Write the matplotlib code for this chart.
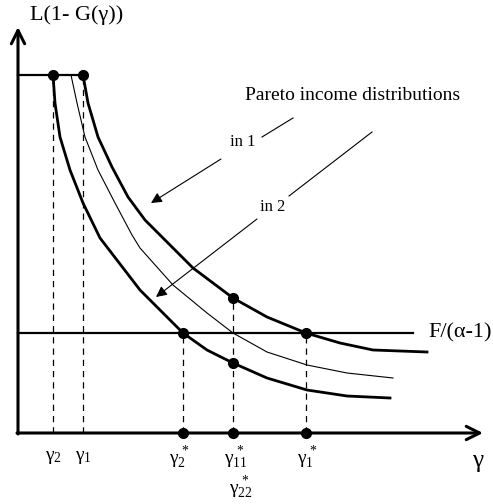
import matplotlib
matplotlib.use('Agg')
from matplotlib import pyplot as plt

plt.rcParams['font.family'] = ['Liberation Serif', 'DejaVu Serif']
plt.rcParams['mathtext.fontset'] = 'custom'
plt.rcParams['mathtext.rm'] = 'Liberation Serif'
plt.rcParams['mathtext.it'] = 'Liberation Serif'

# curves (gamma, L(1-G(gamma)))
upper_x = [65, 70, 80, 94, 110, 127, 145, 155, 175, 215, 249, 288, 322, 355, 409]
upper_y = [358, 330, 296, 266, 236, 213, 195, 185, 165, 135, 116, 100, 90, 83, 81]
middle_x = [53, 59, 67, 80, 97, 114, 122, 155, 189, 215, 249, 289, 329, 375]
middle_y = [358, 330, 296, 263, 230, 198, 185, 148, 120, 100, 81, 68, 60, 55]
lower_x = [35, 37, 42, 52, 65, 82, 122, 142, 165, 189, 215, 249, 289, 329, 372]
lower_y = [358, 330, 296, 263, 230, 195, 143, 123, 100, 83, 70, 55, 43, 37, 35]

cap_level = 358        # flat top of the curves
f_level = 100          # F/(alpha-1)
f_end = 395

gamma_low = [35, 65]           # gamma_2, gamma_1
gamma_star = [165, 215, 288]   # gamma_2*, gamma_11*, gamma_1*
star_tops = [100, 135, 100]
gamma11_low = 70

fig = plt.figure(figsize=(4.93, 5.04), dpi=100)
ax = fig.add_axes([0, 0, 1, 1])
ax.set_xlim(-18, 475)
ax.set_ylim(-71, 433)
ax.axis('off')

# axes with open arrow heads
ax.annotate('', xy=(0, 406), xytext=(0, -1),
            arrowprops=dict(arrowstyle='->', lw=2.2, color='black',
                            mutation_scale=24, shrinkA=0, shrinkB=0))
ax.annotate('', xy=(465, 0), xytext=(-1, 0),
            arrowprops=dict(arrowstyle='->', lw=2.2, color='black',
                            mutation_scale=24, shrinkA=0, shrinkB=0))

# flat top and F line
ax.plot([0, upper_x[0]], [cap_level, cap_level], color='black', lw=1.6)
ax.plot([0, f_end], [f_level, f_level], color='black', lw=1.6)

# curves
ax.plot(upper_x, upper_y, color='black', lw=2.0, solid_joinstyle='round')
ax.plot(middle_x, middle_y, color='black', lw=0.8, solid_joinstyle='round')
ax.plot(lower_x, lower_y, color='black', lw=2.0, solid_joinstyle='round')

# dashed guides
for g in gamma_low:
    ax.plot([g, g], [0, cap_level], color='black', lw=0.9, ls=(0, (5, 4)))
for g, top in zip(gamma_star, star_tops):
    ax.plot([g, g], [0, top], color='black', lw=0.9, ls=(0, (5, 4)))

# dots
dots_x = gamma_low + gamma_star + gamma_star + [gamma_star[1]]
dots_y = [cap_level] * 2 + [0] * 3 + star_tops + [gamma11_low]
ax.plot(dots_x, dots_y, 'o', color='black', ms=7)

# labels
ax.text(59, 418, 'L(1- G(γ))', fontsize=16, ha='center', va='center')
ax.text(410, 100, 'F/(α-1)', fontsize=16, ha='left', va='center')
ax.text(460, -28, 'γ', fontsize=18, ha='center', va='center')
ax.text(227, 338, 'Pareto income distributions', fontsize=14, ha='left', va='center')
ax.text(225, 291, 'in 1', fontsize=12, ha='center', va='center')
ax.text(255, 226, 'in 2', fontsize=12, ha='center', va='center')

ax.text(35, -25, r'$\mathrm{\gamma}_2$', fontsize=14, ha='center', va='center')
ax.text(65, -25, r'$\mathrm{\gamma}_1$', fontsize=14, ha='center', va='center')
ax.text(161, -25, r'$\mathrm{\gamma}_2^{\,*}$', fontsize=14, ha='center', va='center')
ax.text(218, -25, r'$\mathrm{\gamma}_{11}^{\,*}$', fontsize=14, ha='center', va='center')
ax.text(289, -25, r'$\mathrm{\gamma}_1^{\,*}$', fontsize=14, ha='center', va='center')
ax.text(223, -55, r'$\mathrm{\gamma}_{22}^{\,*}$', fontsize=14, ha='center', va='center')

# pointer lines and arrows
ax.plot([244, 275], [296, 315], color='black', lw=0.8)
ax.plot([354, 271], [301, 237], color='black', lw=0.8)
ax.annotate('', xy=(133, 230), xytext=(203, 274),
            arrowprops=dict(arrowstyle='-|>', lw=0.8, color='black',
                            mutation_scale=16, shrinkA=0, shrinkB=0))
ax.annotate('', xy=(138, 136), xytext=(239, 214),
            arrowprops=dict(arrowstyle='-|>', lw=0.8, color='black',
                            mutation_scale=16, shrinkA=0, shrinkB=0))

fig.savefig('out.png', dpi=100)
